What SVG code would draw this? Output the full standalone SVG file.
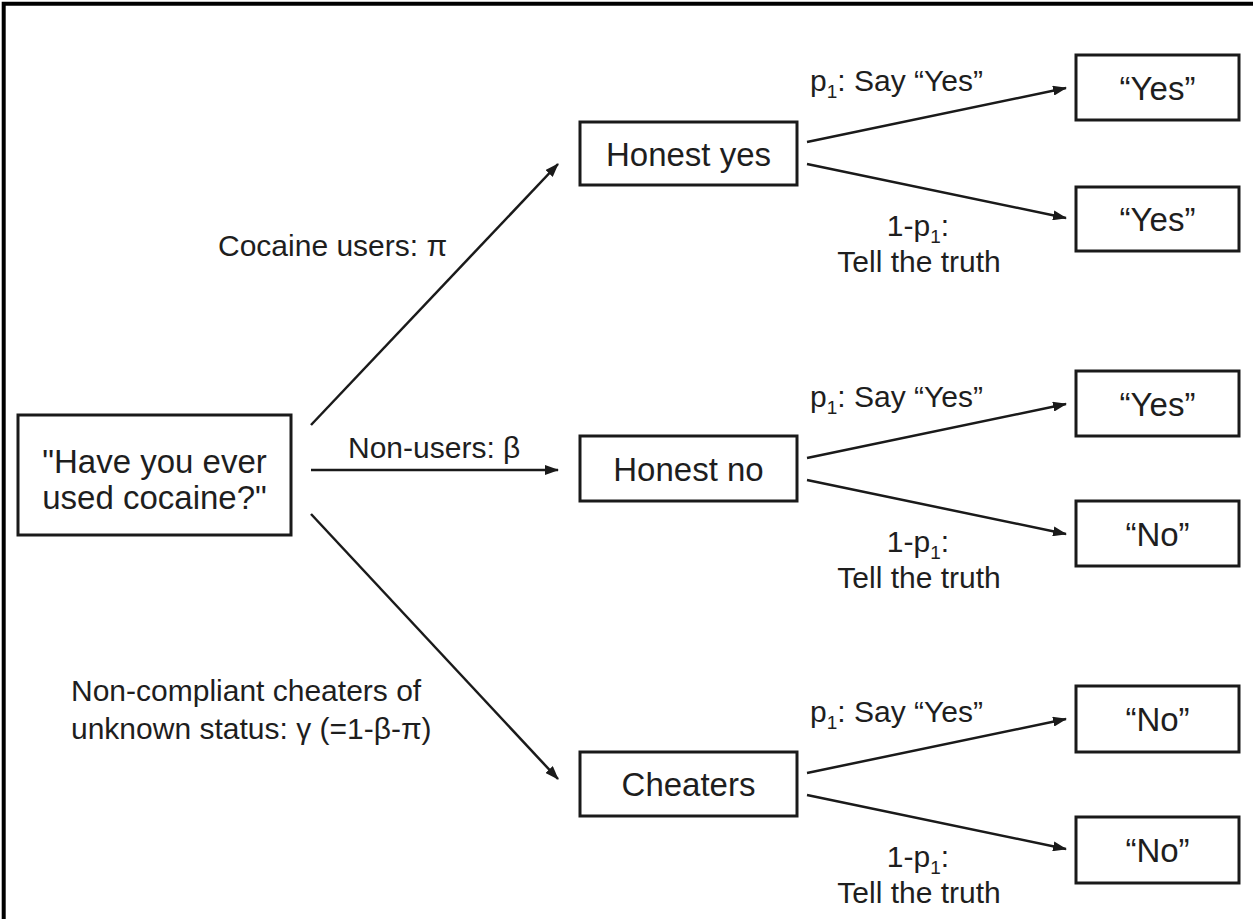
<svg xmlns="http://www.w3.org/2000/svg" width="1253" height="919" viewBox="0 0 1253 919">
  <style>
    .box { fill: #ffffff; stroke: #1a1a1a; stroke-width: 3; }
    .node { font-family: "Liberation Sans", Arial, sans-serif; font-size: 33px; fill: #1e1e1e; text-anchor: middle; }
    .lbl { font-family: "Liberation Sans", Arial, sans-serif; font-size: 30px; fill: #1e1e1e; }
    .mid { text-anchor: middle; }
    .edge { stroke: #1a1a1a; stroke-width: 2.5; fill: none; marker-end: url(#head); }
    .sub { font-size: 19px; }
  </style>
  <defs>
    <marker id="head" markerUnits="userSpaceOnUse" markerWidth="14" markerHeight="10" refX="13" refY="5" orient="auto">
      <path d="M0,0 L14,5 L0,10 Z" fill="#1a1a1a"/>
    </marker>
  </defs>

  <rect width="1253" height="919" fill="#ffffff"/>
  <!-- frame -->
  <path d="M3.7,925 V3.7 H1260" fill="none" stroke="#000" stroke-width="4"/>

  <!-- connectors -->
  <g id="connectors">
    <line class="edge" x1="311" y1="425" x2="558" y2="164"/>
    <line class="edge" x1="311" y1="470" x2="558" y2="470"/>
    <line class="edge" x1="311" y1="514" x2="558" y2="779"/>

    <line class="edge" x1="807" y1="142" x2="1066" y2="88"/>
    <line class="edge" x1="807" y1="164" x2="1066" y2="218"/>
    <line class="edge" x1="807" y1="458" x2="1066" y2="404"/>
    <line class="edge" x1="807" y1="480" x2="1066" y2="534"/>
    <line class="edge" x1="807" y1="773" x2="1066" y2="719"/>
    <line class="edge" x1="807" y1="795" x2="1066" y2="849"/>
  </g>

  <!-- edge labels -->
  <g id="edge-labels" class="lbl">
    <text x="218" y="256">Cocaine users: π</text>
    <text x="348" y="458">Non-users: β</text>
    <text x="71" y="701">Non-compliant cheaters of</text>
    <text x="71" y="739">unknown status: γ (=1-β-π)</text>

    <text x="810" y="91">p<tspan class="sub" dy="7">1</tspan><tspan dy="-7">: Say “Yes”</tspan></text>
    <text class="mid" x="918" y="236">1-p<tspan class="sub" dy="7">1</tspan><tspan dy="-7">:</tspan></text>
    <text class="mid" x="919" y="272">Tell the truth</text>

    <text x="810" y="407">p<tspan class="sub" dy="7">1</tspan><tspan dy="-7">: Say “Yes”</tspan></text>
    <text class="mid" x="918" y="552">1-p<tspan class="sub" dy="7">1</tspan><tspan dy="-7">:</tspan></text>
    <text class="mid" x="919" y="588">Tell the truth</text>

    <text x="810" y="722">p<tspan class="sub" dy="7">1</tspan><tspan dy="-7">: Say “Yes”</tspan></text>
    <text class="mid" x="918" y="867">1-p<tspan class="sub" dy="7">1</tspan><tspan dy="-7">:</tspan></text>
    <text class="mid" x="919" y="903">Tell the truth</text>
  </g>

  <!-- question -->
  <g id="question">
    <rect class="box" x="18" y="415" width="273" height="120"/>
    <text class="node" x="154.5" y="473">"Have you ever</text>
    <text class="node" x="154.5" y="509">used cocaine?"</text>
  </g>

  <!-- respondent groups -->
  <g id="honest-yes">
    <rect class="box" x="580" y="122" width="217" height="63"/>
    <text class="node" x="688.5" y="166">Honest yes</text>
  </g>
  <g id="honest-no">
    <rect class="box" x="580" y="436" width="217" height="65"/>
    <text class="node" x="688.5" y="481">Honest no</text>
  </g>
  <g id="cheaters">
    <rect class="box" x="580" y="752" width="217" height="64"/>
    <text class="node" x="688.5" y="796">Cheaters</text>
  </g>

  <!-- answers -->
  <g id="answer-1">
    <rect class="box" x="1076" y="55" width="163" height="65"/>
    <text class="node" x="1157.5" y="100">“Yes”</text>
  </g>
  <g id="answer-2">
    <rect class="box" x="1076" y="187" width="163" height="64"/>
    <text class="node" x="1157.5" y="231">“Yes”</text>
  </g>
  <g id="answer-3">
    <rect class="box" x="1076" y="371" width="163" height="65"/>
    <text class="node" x="1157.5" y="416">“Yes”</text>
  </g>
  <g id="answer-4">
    <rect class="box" x="1076" y="501" width="163" height="65"/>
    <text class="node" x="1157.5" y="546">“No”</text>
  </g>
  <g id="answer-5">
    <rect class="box" x="1076" y="686" width="163" height="66"/>
    <text class="node" x="1157.5" y="731">“No”</text>
  </g>
  <g id="answer-6">
    <rect class="box" x="1076" y="817" width="163" height="66"/>
    <text class="node" x="1157.5" y="862">“No”</text>
  </g>
</svg>
